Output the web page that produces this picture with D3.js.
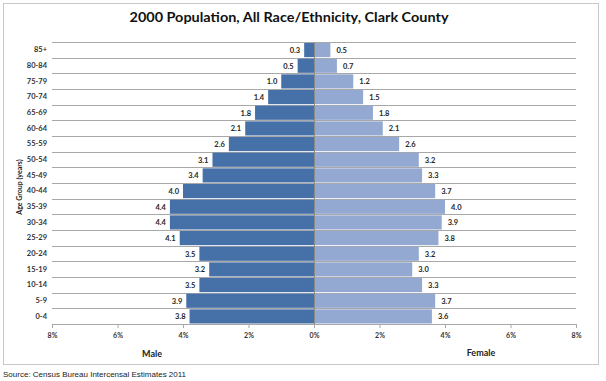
<!DOCTYPE html>
<html><head><meta charset="utf-8">
<script src="https://cdn.jsdelivr.net/npm/d3@7"></script>
<style>body{margin:0;background:#fff}svg{display:block}</style>
</head><body>
<svg id="c" width="606" height="381"></svg>
<script>
const ageGroups = ["0-4","5-9","10-14","15-19","20-24","25-29","30-34","35-39","40-44","45-49","50-54","55-59","60-64","65-69","70-74","75-79","80-84","85+"];
const maleValues = [3.8,3.9,3.5,3.2,3.5,4.1,4.4,4.4,4.0,3.4,3.1,2.6,2.1,1.8,1.4,1.0,0.5,0.3];
const femaleValues = [3.6,3.7,3.3,3.0,3.2,3.8,3.9,4.0,3.7,3.3,3.2,2.6,2.1,1.8,1.5,1.2,0.7,0.5];
const tickValues = [-8,-6,-4,-2,0,2,4,6,8];
const titleText = "2000 Population, All Race/Ethnicity, Clark County";
const sourceText = "Source: Census Bureau Intercensal Estimates 2011";

(function(){
const svg = d3.select("#c");
const font = "Lato, 'Open Sans', sans-serif";
const pLeft = 52, pRight = 576, pTop = 42, pBottom = 324;

// frame
svg.append("rect").attr("x",3.5).attr("y",3.5).attr("width",595).attr("height",361)
  .attr("fill","#fff").attr("stroke","#c8c8c8").attr("stroke-width",1);

const x = d3.scaleLinear().domain([-8,8]).range([pLeft,pRight]);
const y = d3.scaleBand().domain(ageGroups.slice().reverse()).range([pTop,pBottom]).paddingInner(0);

// gridlines
const g = svg.append("g");
const bounds = ageGroups.map(a=>y(a)).concat([pBottom]);
g.selectAll("line.grid").data(bounds).join("line")
  .attr("x1",pLeft).attr("x2",pRight).attr("y1",d=>Math.round(d)+0.5).attr("y2",d=>Math.round(d)+0.5)
  .attr("stroke","#a8a8a8").attr("stroke-width",1);

const data = ageGroups.map((a,i)=>({a, m:maleValues[i], f:femaleValues[i]}));

// bars
g.selectAll("rect.m").data(data).join("rect")
  .attr("x",d=>x(-d.m)).attr("width",d=>x(0)-x(-d.m))
  .attr("y",d=>y(d.a)+1).attr("height",y.bandwidth()-1.5)
  .attr("fill","#4670a8");
g.selectAll("rect.f").data(data).join("rect")
  .attr("x",x(0)).attr("width",d=>x(d.f)-x(0))
  .attr("y",d=>y(d.a)+1).attr("height",y.bandwidth()-1.5)
  .attr("fill","#94a9d1");

// center line
g.append("line").attr("x1",x(0)+0.5).attr("x2",x(0)+0.5).attr("y1",pTop).attr("y2",pBottom)
  .attr("stroke","#8a8a8a").attr("stroke-width",1);

// value labels
g.selectAll("text.m").data(data).join("text")
  .attr("x",d=>x(-d.m)-4).attr("y",d=>y(d.a)+y.bandwidth()/2+3)
  .attr("text-anchor","end").attr("font-family",font).attr("font-size",7.5).attr("font-weight","bold")
  .attr("fill","#262626").text(d=>d.m.toFixed(1));
g.selectAll("text.f").data(data).join("text")
  .attr("x",d=>x(d.f)+6).attr("y",d=>y(d.a)+y.bandwidth()/2+3)
  .attr("text-anchor","start").attr("font-family",font).attr("font-size",7.5).attr("font-weight","bold")
  .attr("fill","#262626").text(d=>d.f.toFixed(1));

// category labels
const yAxis = svg.append("g").attr("transform",`translate(${pLeft},0)`)
  .call(d3.axisLeft(y).tickSize(0).tickPadding(5));
yAxis.select(".domain").remove();
yAxis.selectAll("text").attr("font-family",font).attr("font-size",7.5).attr("font-weight","bold").attr("fill","#333");

// x axis
const xAxis = svg.append("g").attr("transform",`translate(0,${pBottom})`)
  .call(d3.axisBottom(x).tickValues(tickValues).tickSize(4).tickPadding(5).tickFormat(d=>Math.abs(d)+"%"));
xAxis.select(".domain").attr("stroke","#a8a8a8");
xAxis.selectAll(".tick line").attr("stroke","#a8a8a8");
xAxis.selectAll("text").attr("font-family",font).attr("font-size",7).attr("font-weight","bold").attr("fill","#333");

// title
svg.append("text").attr("x",289).attr("y",22).attr("text-anchor","middle")
  .attr("font-family",font).attr("font-size",14).attr("font-weight","bold").attr("fill","#111")
  .attr("textLength",319).attr("lengthAdjust","spacingAndGlyphs").text(titleText);

// axis titles
svg.append("text").attr("transform","translate(22,187) rotate(-90)").attr("text-anchor","middle")
  .attr("font-family",font).attr("font-size",7).attr("font-weight","bold").attr("fill","#222").text("Age Group (years)");
svg.append("text").attr("x",152).attr("y",357).attr("text-anchor","middle")
  .attr("font-family",font).attr("font-size",9).attr("font-weight","bold").attr("fill","#222").text("Male");
svg.append("text").attr("x",481).attr("y",356).attr("text-anchor","middle")
  .attr("font-family",font).attr("font-size",9).attr("font-weight","bold").attr("fill","#222").text("Female");

// source
svg.append("text").attr("x",3).attr("y",377).attr("font-family","'Liberation Sans', Arial, sans-serif")
  .attr("font-size",8).attr("fill","#222").text(sourceText);
})();
</script>
</body></html>
